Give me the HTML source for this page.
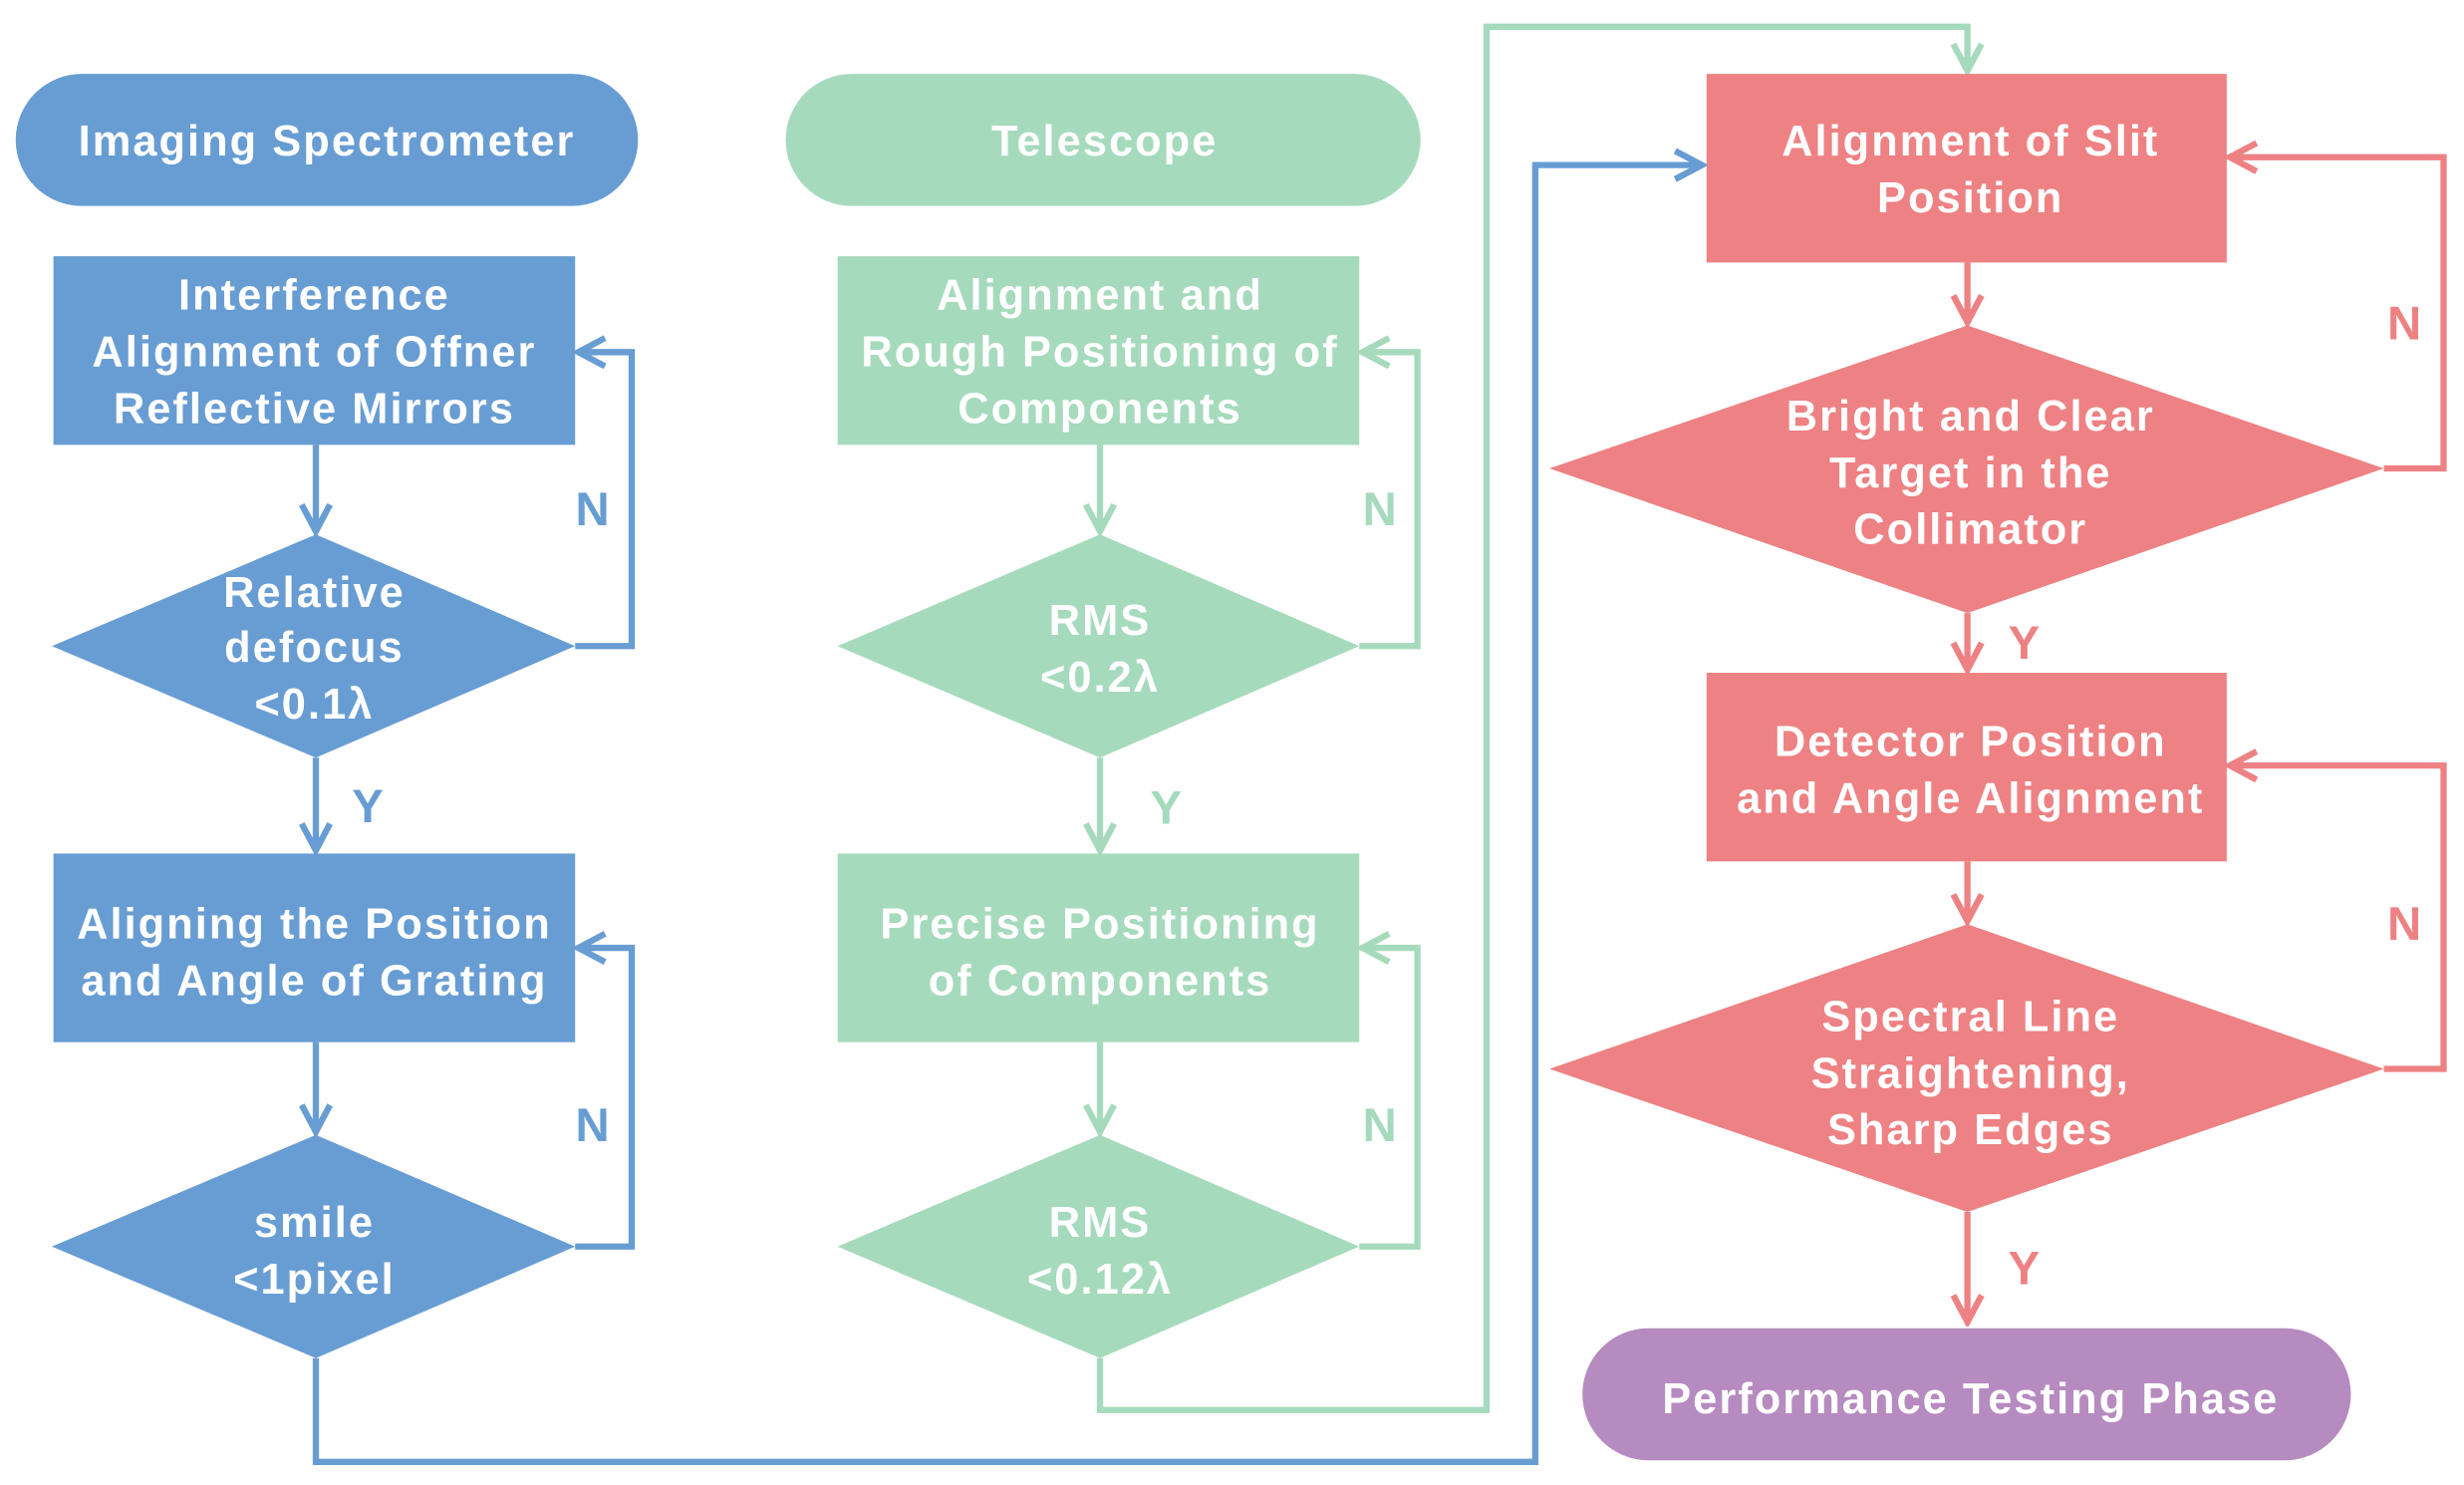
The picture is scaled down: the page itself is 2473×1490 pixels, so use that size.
<!DOCTYPE html>
<html><head><meta charset="utf-8"><style>html,body{margin:0;padding:0;background:#fff}svg{display:block}</style></head><body>
<svg width="2473" height="1490" viewBox="0 0 1568 944.7" xmlns="http://www.w3.org/2000/svg" font-family="Liberation Sans, Arial, sans-serif" font-weight="bold" font-size="27">
<defs>
<marker id="ab" viewBox="0 0 22 22" refX="19" refY="11" markerWidth="22" markerHeight="22" markerUnits="userSpaceOnUse" orient="auto"><path d="M2,2 L19,11 L2,20" fill="none" stroke="#689dd3" stroke-width="4"/></marker>
<marker id="ag" viewBox="0 0 22 22" refX="19" refY="11" markerWidth="22" markerHeight="22" markerUnits="userSpaceOnUse" orient="auto"><path d="M2,2 L19,11 L2,20" fill="none" stroke="#a6dabd" stroke-width="4"/></marker>
<marker id="ar" viewBox="0 0 22 22" refX="19" refY="11" markerWidth="22" markerHeight="22" markerUnits="userSpaceOnUse" orient="auto"><path d="M2,2 L19,11 L2,20" fill="none" stroke="#ee8183" stroke-width="4"/></marker>
</defs>
<g fill="none" stroke-width="4">
<g stroke="#689dd3">
<path d="M201,283 V338" marker-end="url(#ab)"/>
<path d="M201,482 V541" marker-end="url(#ab)"/>
<path d="M201,663 V720" marker-end="url(#ab)"/>
<path d="M366,411 H402 V224 H368" marker-end="url(#ab)"/>
<path d="M366,793 H402 V603 H368" marker-end="url(#ab)"/>
<path d="M201,864 V930 H977 V105 H1083" marker-end="url(#ab)"/>
</g>
<g stroke="#a6dabd">
<path d="M700,283 V338" marker-end="url(#ag)"/>
<path d="M700,482 V541" marker-end="url(#ag)"/>
<path d="M700,663 V720" marker-end="url(#ag)"/>
<path d="M865,411 H902 V224 H867" marker-end="url(#ag)"/>
<path d="M865,793 H902 V603 H867" marker-end="url(#ag)"/>
<path d="M700,864 V897 H946 V17 H1252 V45" marker-end="url(#ag)"/>
</g>
<g stroke="#ee8183">
<path d="M1252,167 V205" marker-end="url(#ar)"/>
<path d="M1252,390 V426" marker-end="url(#ar)"/>
<path d="M1252,548 V586" marker-end="url(#ar)"/>
<path d="M1252,771 V841" marker-end="url(#ar)"/>
<path d="M1517,298 H1555 V100 H1419" marker-end="url(#ar)"/>
<path d="M1517,680 H1555 V487 H1419" marker-end="url(#ar)"/>
</g>
</g>
<rect x="10" y="47" width="396" height="84" rx="42" fill="#689dd3"/>
<rect x="500" y="47" width="404" height="84" rx="42" fill="#a6dabd"/>
<rect x="34" y="163" width="332" height="120" fill="#689dd3"/>
<rect x="34" y="543" width="332" height="120" fill="#689dd3"/>
<polygon points="33,411 201,340 366,411 201,482" fill="#689dd3"/>
<polygon points="33,793 201,722 366,793 201,864" fill="#689dd3"/>
<rect x="533" y="163" width="332" height="120" fill="#a6dabd"/>
<rect x="533" y="543" width="332" height="120" fill="#a6dabd"/>
<polygon points="533,411 700,340 865,411 700,482" fill="#a6dabd"/>
<polygon points="533,793 700,722 865,793 700,864" fill="#a6dabd"/>
<rect x="1086" y="47" width="331" height="120" fill="#ee8183"/>
<rect x="1086" y="428" width="331" height="120" fill="#ee8183"/>
<polygon points="986,298 1252,207 1517,298 1252,390" fill="#ee8183"/>
<polygon points="986,680 1252,588 1517,680 1252,771" fill="#ee8183"/>
<rect x="1007" y="845" width="489" height="84" rx="42" fill="#b68bc0"/>
<g fill="#fff" text-anchor="middle" letter-spacing="1.3" font-size="27.5">
<text x="208" y="99">Imaging Spectrometer</text>
<text x="703" y="99">Telescope</text>
<text x="200" y="197">Interference</text>
<text x="200" y="233">Alignment of Offner</text>
<text x="200" y="269">Reflective Mirrors</text>
<text x="200" y="386">Relative</text>
<text x="200" y="421">defocus</text>
<text x="200" y="457">&lt;0.1λ</text>
<text x="200" y="597">Aligning the Position</text>
<text x="200" y="633">and Angle of Grating</text>
<text x="200" y="787">smile</text>
<text x="200" y="823">&lt;1pixel</text>
<text x="700" y="197">Alignment and</text>
<text x="700" y="233">Rough Positioning of</text>
<text x="700" y="269">Components</text>
<text x="700" y="404">RMS</text>
<text x="700" y="440">&lt;0.2λ</text>
<text x="700" y="597">Precise Positioning</text>
<text x="700" y="633">of Components</text>
<text x="700" y="787">RMS</text>
<text x="700" y="823">&lt;0.12λ</text>
<text x="1254" y="99">Alignment of Slit</text>
<text x="1254" y="135">Position</text>
<text x="1254" y="274">Bright and Clear</text>
<text x="1254" y="310">Target in the</text>
<text x="1254" y="346">Collimator</text>
<text x="1254" y="481">Detector Position</text>
<text x="1254" y="517">and Angle Alignment</text>
<text x="1254" y="656">Spectral Line</text>
<text x="1254" y="692">Straightening,</text>
<text x="1254" y="728">Sharp Edges</text>
<text x="1254" y="899">Performance Testing Phase</text>
</g>
<g font-size="30" text-anchor="middle">
<text x="377" y="334" fill="#689dd3">N</text>
<text x="377" y="726" fill="#689dd3">N</text>
<text x="234" y="523" fill="#689dd3">Y</text>
<text x="878" y="334" fill="#a6dabd">N</text>
<text x="878" y="726" fill="#a6dabd">N</text>
<text x="742" y="524" fill="#a6dabd">Y</text>
<text x="1530" y="216" fill="#ee8183">N</text>
<text x="1530" y="598" fill="#ee8183">N</text>
<text x="1288" y="419" fill="#ee8183">Y</text>
<text x="1288" y="817" fill="#ee8183">Y</text>
</g>
</svg>
</body></html>
